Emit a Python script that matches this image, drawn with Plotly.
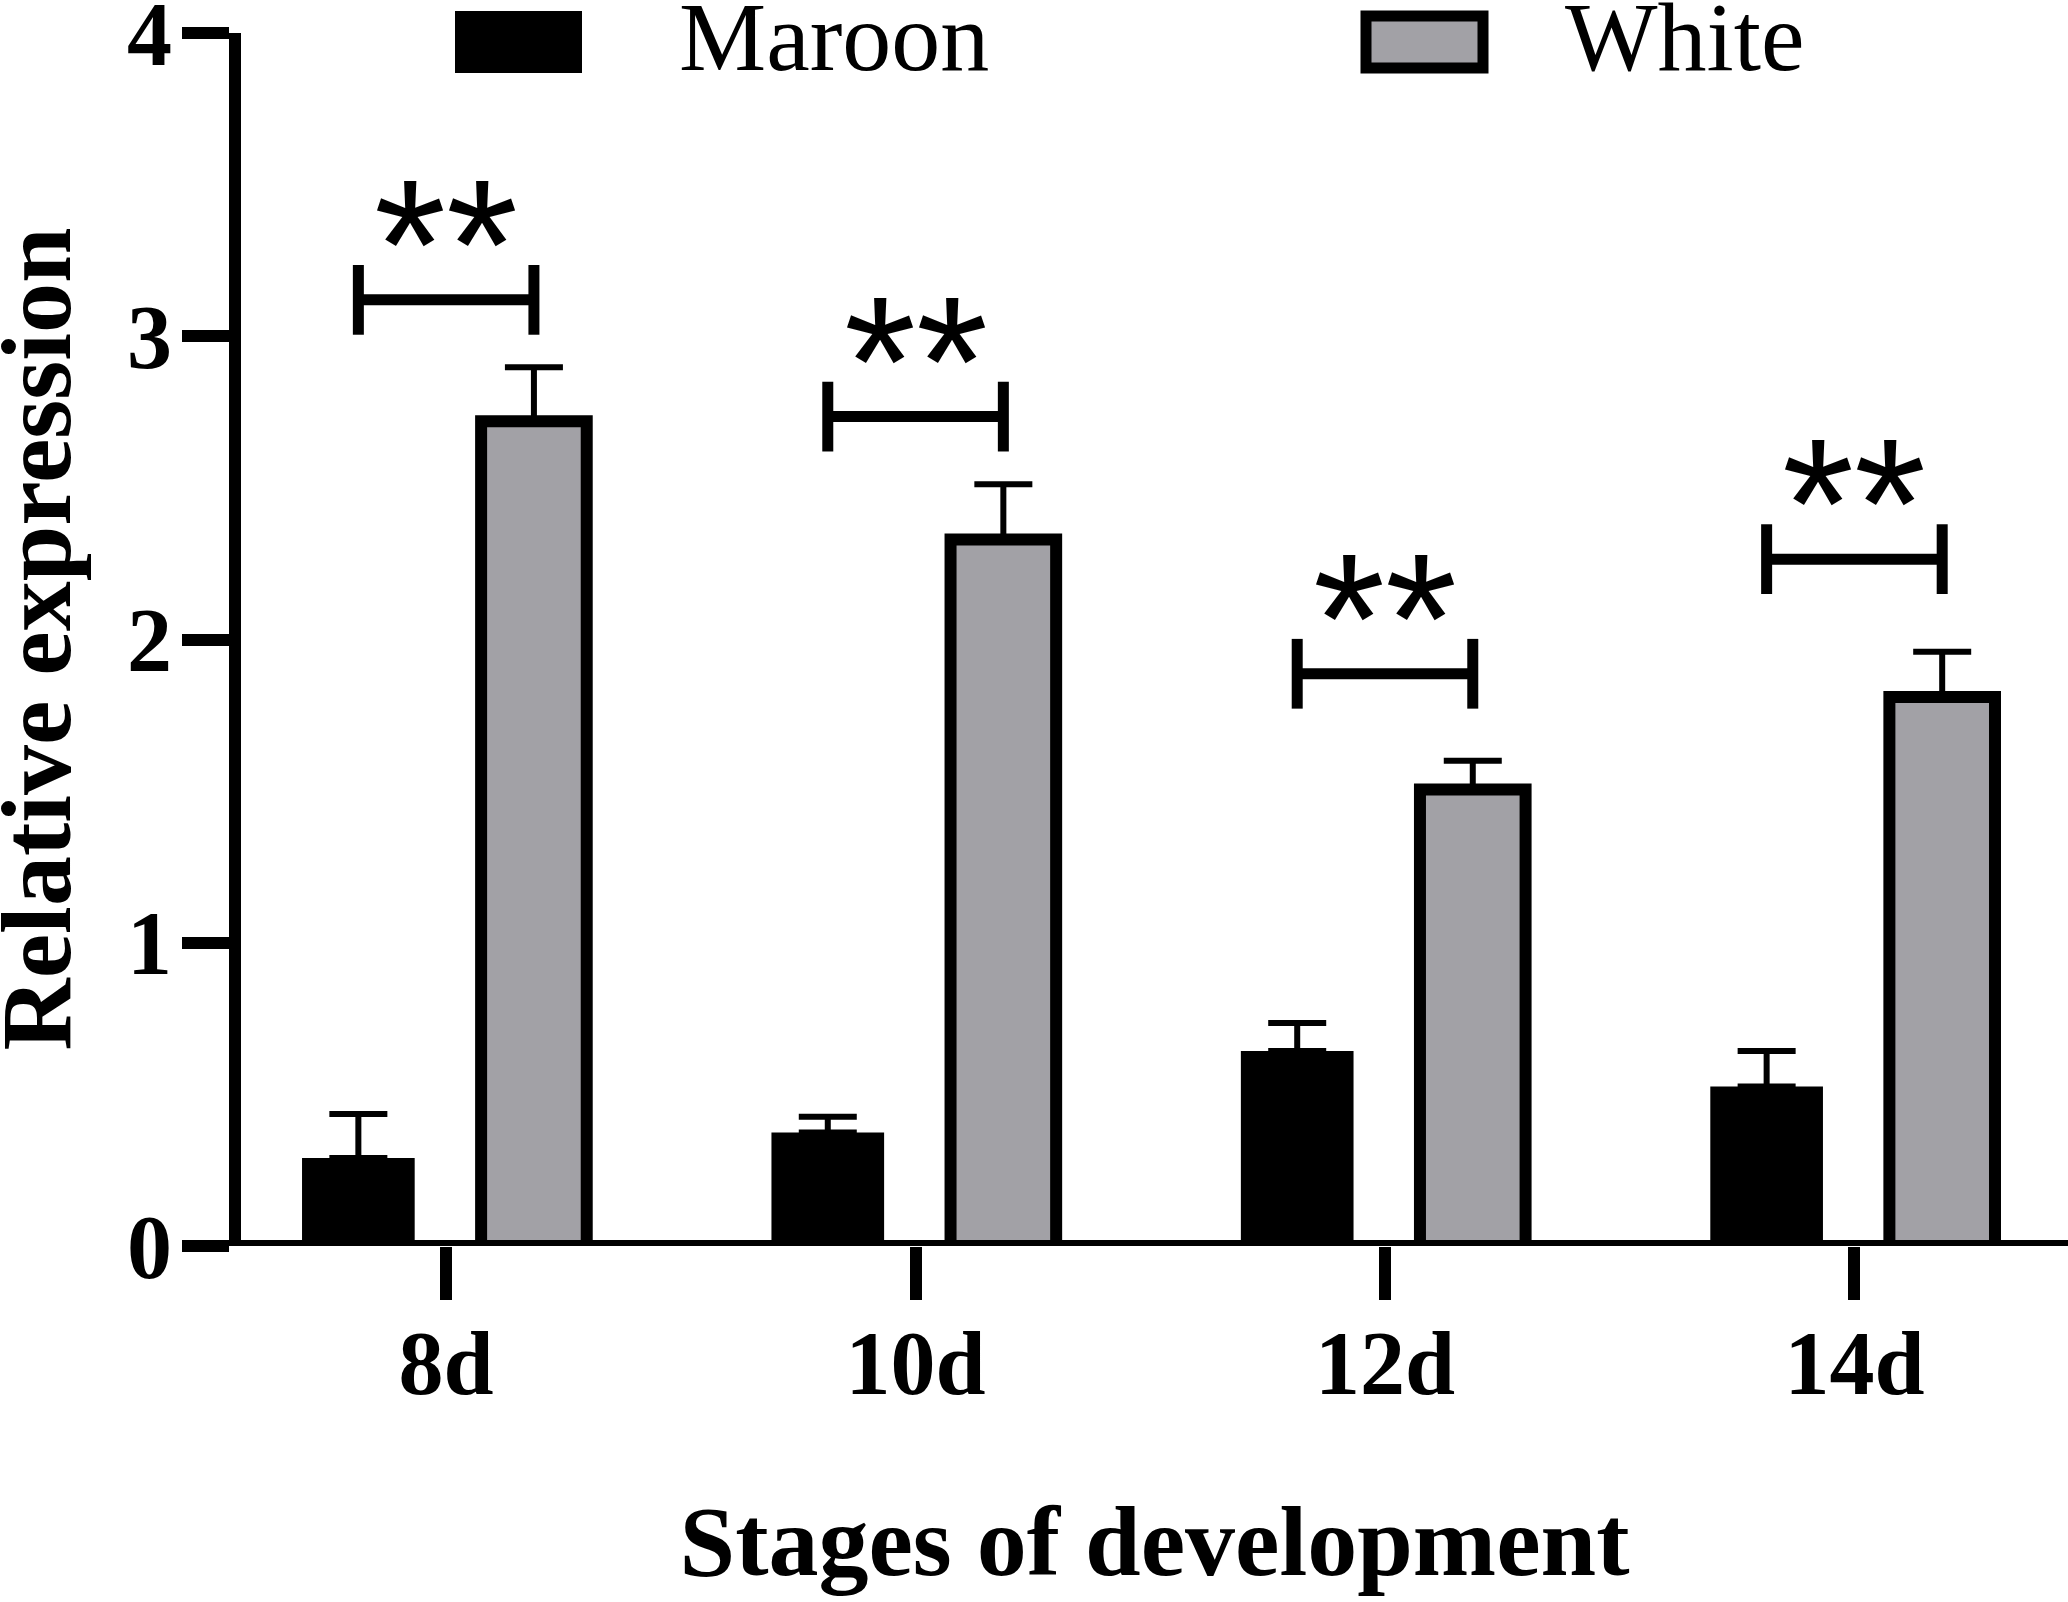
import plotly.graph_objects as go

categories = ["8d", "10d", "12d", "14d"]
maroon = [0.29, 0.374, 0.643, 0.526]
maroon_err = [0.145, 0.052, 0.092, 0.117]
white = [2.72, 2.33, 1.505, 1.81]
white_err = [0.178, 0.182, 0.095, 0.15]
sig_y = [3.12, 2.735, 1.887, 2.265]
sig_text = ["**", "**", "**", "**"]
y_ticks = [0, 1, 2, 3, 4]
x_title = "Stages of development"
y_title = "Relative expression"

W_PX, H_PX = 2068, 1602
L, R, T, B = 241, 2068, 33, 1246
xpos = list(range(len(categories)))
half_gap = 0.187
bw_m = 0.24
bw_w = 0.225
grey = "#a2a1a6"
serif = "Liberation Serif"

def pxx(v):
    return (v - L) / (R - L)

def pyy(v):
    return (B - v) / (B - T)

fig = go.Figure()
fig.add_trace(go.Bar(
    x=xpos, y=maroon, width=bw_m, offset=-half_gap - bw_m / 2,
    marker=dict(color="black", line=dict(width=0)),
    error_y=dict(type="data", array=maroon_err, arrayminus=[0] * 4, symmetric=False,
                 color="black", thickness=6, width=29),
    name="Maroon", showlegend=False))
fig.add_trace(go.Bar(
    x=xpos, y=white, width=bw_w, offset=half_gap - bw_w / 2,
    marker=dict(color=grey, line=dict(width=12, color="black")),
    error_y=dict(type="data", array=white_err, arrayminus=[0] * 4, symmetric=False,
                 color="black", thickness=6, width=29),
    name="White", showlegend=False))

# significance brackets
h = 0.115
bx, by = [], []
for i, yv in enumerate(sig_y):
    x0, x1 = xpos[i] - half_gap, xpos[i] + half_gap
    bx += [x0, x0, None, x0, x1, None, x1, x1, None]
    by += [yv + h, yv - h, None, yv, yv, None, yv + h, yv - h, None]
fig.add_trace(go.Scatter(x=bx, y=by, mode="lines", line=dict(color="black", width=11),
                         showlegend=False, hoverinfo="skip", cliponaxis=False))

annotations = []
for i, yv in enumerate(sig_y):
    annotations.append(dict(x=xpos[i], y=yv, xref="x", yref="y", text=sig_text[i],
                            showarrow=False, yanchor="middle", yshift=55,
                            font=dict(family="Liberation Sans", size=185, color="black")))

# legend (drawn manually to match the large swatches)
shapes = [
    dict(type="rect", xref="paper", yref="paper", x0=pxx(455), x1=pxx(582), y0=pyy(73), y1=pyy(11),
         fillcolor="black", line=dict(width=0), layer="above"),
    dict(type="rect", xref="paper", yref="paper", x0=pxx(1366), x1=pxx(1483), y0=pyy(68), y1=pyy(16),
         fillcolor=grey, line=dict(width=11, color="black"), layer="above"),
    dict(type="line", xref="paper", yref="y", x0=pxx(189), x1=1, y0=0, y1=0,
         line=dict(width=12, color="black"), layer="above"),
]
annotations.append(dict(x=pxx(677), y=pyy(37), xref="paper", yref="paper", text="Maroon",
                        showarrow=False, xanchor="left", yanchor="middle",
                        font=dict(family=serif, size=98, color="black")))
annotations.append(dict(x=pxx(1563), y=pyy(37), xref="paper", yref="paper", text="White",
                        showarrow=False, xanchor="left", yanchor="middle",
                        font=dict(family=serif, size=98, color="black")))
# y-axis title as a rotated annotation (axis titles are kept inside the margin)
annotations.append(dict(x=pxx(36), y=0.5, xref="paper", yref="paper", text="<b>" + y_title + "</b>",
                        showarrow=False, xanchor="center", yanchor="middle", textangle=-90,
                        font=dict(family=serif, size=100, color="black")))

fig.update_layout(
    width=W_PX, height=H_PX,
    margin=dict(l=L, r=W_PX - R, t=T, b=H_PX - B, autoexpand=False),
    paper_bgcolor="white", plot_bgcolor="white",
    barmode="overlay",
    shapes=shapes, annotations=annotations,
    font=dict(family=serif, color="black"),
    xaxis=dict(range=[-0.437, 3.455], tickmode="array", tickvals=xpos, ticktext=categories,
               automargin=False,
               showgrid=False, zeroline=False, showline=False,
               ticks="outside", ticklen=53, tickwidth=12, tickcolor="black",
               ticklabelstandoff=-14,
               tickfont=dict(family=serif, size=90, color="black", weight="bold"),
               title=dict(text="<b>" + x_title + "</b>", standoff=92,
                          font=dict(family=serif, size=100, color="black"))),
    yaxis=dict(range=[0, 4], tickmode="array", tickvals=y_ticks,
               automargin=False,
               showgrid=False, zeroline=False, showline=True, linewidth=12, linecolor="black",
               ticks="outside", ticklen=47, tickwidth=12, tickcolor="black",
               ticklabelstandoff=-8, ticklabeloverflow="allow",
               tickfont=dict(family=serif, size=90, color="black", weight="bold")),
)

fig.write_html("out.html", config={"displayModeBar": False},
               post_script="document.body.style.margin='0';document.body.style.overflow='hidden';")
